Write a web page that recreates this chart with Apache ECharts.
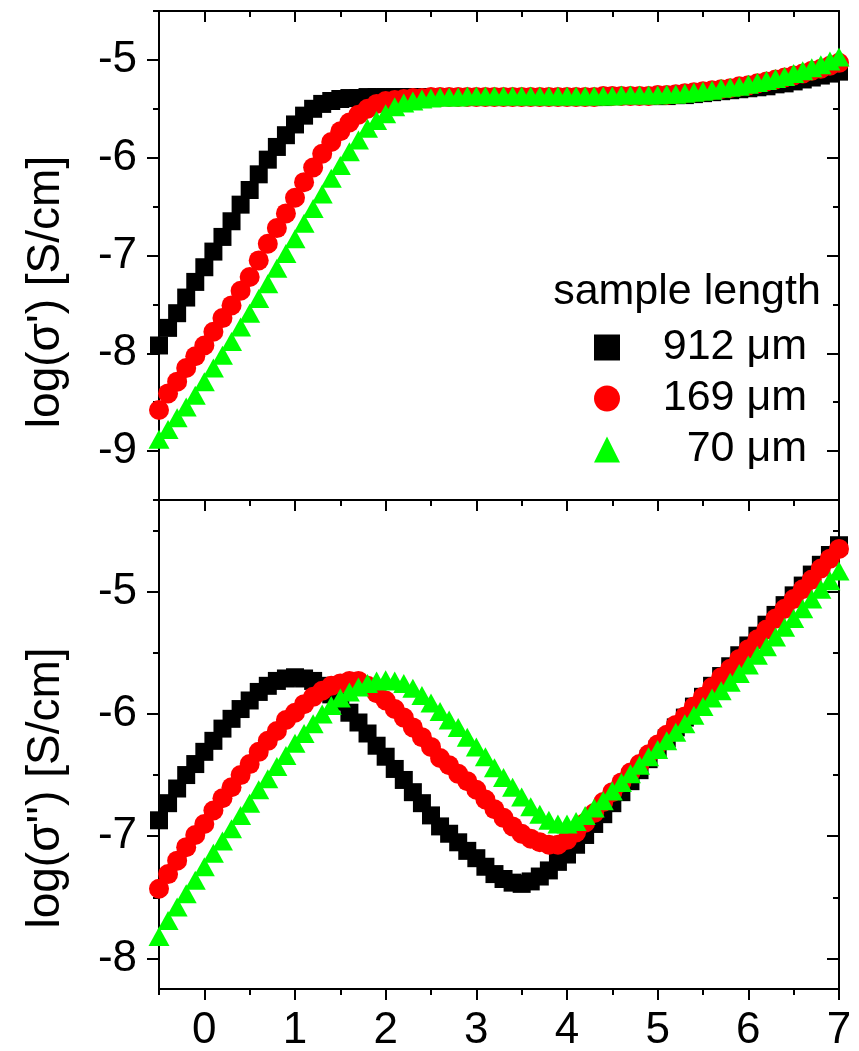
<!DOCTYPE html>
<html>
<head>
<meta charset="utf-8">
<script src="https://cdn.jsdelivr.net/npm/echarts@6/dist/echarts.min.js"></script>
<style>
html,body{margin:0;padding:0;background:#fff;}
#chart{width:859px;height:1051px;}
</style>
</head>
<body>
<div id="chart"></div>
<script>
// log frequency (x)
const logFreq = [-0.5,-0.4,-0.3,-0.2,-0.1,0.0,0.1,0.2,0.3,0.4,0.5,0.6,0.7,0.8,0.9,1.0,1.1,1.2,1.3,1.4,1.5,1.6,1.7,1.8,1.9,2.0,2.1,2.2,2.3,2.4,2.5,2.6,2.7,2.8,2.9,3.0,3.1,3.2,3.3,3.4,3.5,3.6,3.7,3.8,3.9,4.0,4.1,4.2,4.3,4.4,4.5,4.6,4.7,4.8,4.9,5.0,5.1,5.2,5.3,5.4,5.5,5.6,5.7,5.8,5.9,6.0,6.1,6.2,6.3,6.4,6.5,6.6,6.7,6.8,6.9,7.0];

const seriesNames = ['912 \u03bcm', '169 \u03bcm', '70 \u03bcm'];

// top panel: log(sigma')
const sigReal912 = [-7.92,-7.74,-7.59,-7.43,-7.27,
  -7.12,-6.96,-6.81,-6.65,-6.48,-6.33,-6.17,-6.02,-5.89,-5.77,
  -5.66,-5.57,-5.50,-5.45,-5.42,-5.40,-5.39,-5.39,-5.38,-5.38,
  -5.38,-5.38,-5.38,-5.38,-5.38,-5.38,-5.38,-5.38,-5.38,-5.38,
  -5.38,-5.38,-5.38,-5.38,-5.38,-5.38,-5.38,-5.38,-5.38,-5.38,
  -5.38,-5.38,-5.38,-5.38,-5.38,-5.37,-5.37,-5.37,-5.37,-5.37,
  -5.37,-5.37,-5.36,-5.36,-5.35,-5.34,-5.33,-5.32,-5.31,-5.30,
  -5.29,-5.28,-5.27,-5.25,-5.24,-5.22,-5.20,-5.18,-5.16,-5.14,-5.12];
const sigReal169 = [-8.58,-8.41,-8.29,-8.15,-8.03,
  -7.92,-7.78,-7.64,-7.51,-7.36,-7.22,-7.05,-6.88,-6.72,-6.57,
  -6.41,-6.25,-6.10,-5.96,-5.84,-5.73,-5.64,-5.56,-5.50,-5.45,
  -5.42,-5.41,-5.40,-5.39,-5.39,-5.38,-5.38,-5.38,-5.38,-5.38,
  -5.38,-5.38,-5.38,-5.38,-5.38,-5.38,-5.38,-5.38,-5.38,-5.38,
  -5.38,-5.38,-5.38,-5.38,-5.37,-5.37,-5.37,-5.37,-5.37,-5.37,
  -5.36,-5.36,-5.35,-5.34,-5.33,-5.32,-5.31,-5.30,-5.29,-5.27,
  -5.26,-5.24,-5.22,-5.20,-5.18,-5.16,-5.14,-5.11,-5.09,-5.06,-5.03];
const sigReal70 = [-8.88,-8.78,-8.66,-8.55,-8.43,
  -8.29,-8.15,-8.02,-7.88,-7.73,-7.59,-7.44,-7.29,-7.13,-6.98,
  -6.83,-6.67,-6.52,-6.37,-6.21,-6.08,-5.94,-5.82,-5.70,-5.62,
  -5.55,-5.48,-5.44,-5.42,-5.40,-5.39,-5.38,-5.38,-5.38,-5.37,
  -5.37,-5.37,-5.37,-5.37,-5.37,-5.37,-5.37,-5.37,-5.37,-5.37,
  -5.37,-5.37,-5.37,-5.37,-5.37,-5.37,-5.36,-5.36,-5.36,-5.36,
  -5.36,-5.35,-5.35,-5.34,-5.33,-5.32,-5.31,-5.29,-5.28,-5.27,
  -5.25,-5.23,-5.21,-5.19,-5.17,-5.14,-5.11,-5.08,-5.05,-5.01,-4.97];

// bottom panel: log(sigma'')
const sigImag912 = [-6.87,-6.73,-6.61,-6.50,-6.41,
  -6.31,-6.22,-6.12,-6.04,-5.96,-5.89,-5.82,-5.77,-5.73,-5.71,
  -5.70,-5.71,-5.73,-5.77,-5.84,-5.90,-5.99,-6.07,-6.16,-6.26,
  -6.35,-6.45,-6.54,-6.64,-6.73,-6.83,-6.92,-6.98,-7.05,-7.12,
  -7.18,-7.25,-7.31,-7.35,-7.38,-7.39,-7.37,-7.33,-7.28,-7.21,
  -7.15,-7.07,-6.99,-6.90,-6.82,-6.73,-6.64,-6.55,-6.46,-6.37,
  -6.29,-6.20,-6.11,-6.03,-5.94,-5.86,-5.77,-5.69,-5.61,-5.52,
  -5.44,-5.36,-5.27,-5.19,-5.11,-5.03,-4.95,-4.86,-4.78,-4.70,-4.62];
const sigImag169 = [-7.43,-7.31,-7.20,-7.09,-6.99,
  -6.90,-6.79,-6.69,-6.60,-6.50,-6.41,-6.31,-6.22,-6.14,-6.05,
  -5.99,-5.92,-5.86,-5.81,-5.77,-5.75,-5.73,-5.73,-5.77,-5.83,
  -5.89,-5.96,-6.03,-6.11,-6.19,-6.27,-6.36,-6.42,-6.49,-6.55,
  -6.62,-6.70,-6.78,-6.85,-6.92,-6.98,-7.02,-7.05,-7.07,-7.07,
  -7.03,-6.97,-6.89,-6.81,-6.72,-6.64,-6.56,-6.48,-6.41,-6.33,
  -6.25,-6.17,-6.09,-6.02,-5.94,-5.86,-5.78,-5.70,-5.63,-5.55,
  -5.47,-5.39,-5.31,-5.22,-5.14,-5.06,-4.98,-4.90,-4.81,-4.73,-4.65];
const sigImag70 = [-7.82,-7.69,-7.58,-7.47,-7.36,
  -7.25,-7.14,-7.04,-6.94,-6.83,-6.73,-6.62,-6.53,-6.43,-6.34,
  -6.24,-6.16,-6.08,-6.00,-5.93,-5.87,-5.82,-5.78,-5.75,-5.73,
  -5.72,-5.73,-5.75,-5.79,-5.85,-5.91,-5.98,-6.05,-6.11,-6.19,
  -6.27,-6.35,-6.44,-6.52,-6.60,-6.68,-6.76,-6.82,-6.87,-6.90,
  -6.90,-6.88,-6.83,-6.77,-6.71,-6.63,-6.56,-6.49,-6.42,-6.35,
  -6.29,-6.22,-6.15,-6.08,-6.01,-5.94,-5.87,-5.81,-5.74,-5.67,
  -5.60,-5.52,-5.45,-5.37,-5.29,-5.22,-5.14,-5.06,-4.98,-4.91,-4.83];

// ticks
const xMajorTicks = [0,1,2,3,4,5,6,7];
const xMinorTicks = [-0.5,0.5,1.5,2.5,3.5,4.5,5.5,6.5];
const yTopMajor = [-9,-8,-7,-6,-5];
const yTopMinor = [-9.5,-8.5,-7.5,-6.5,-5.5,-4.5];
const yBotMajor = [-8,-7,-6,-5];
const yBotMinor = [-7.5,-6.5,-5.5,-4.5];

const FONT = 'Liberation Sans, Arial, sans-serif';
const BLACK = '#000000';

function pairs(ys){ return logFreq.map((x,i)=>[x, ys[i]]); }

const lineStyle = {color: BLACK, width: 2};
function xAx(grid, pos, opts){
  return Object.assign({
    type:'value', gridIndex:grid, position:pos, min:-0.5, max:7, offset:0,
    axisLine:{show:false, onZero:false, lineStyle}, splitLine:{show:false},
    axisTick:{show:false}, axisLabel:{show:false}
  }, opts);
}
function yAx(grid, pos, min, max, opts){
  return Object.assign({
    type:'value', gridIndex:grid, position:pos, min:min, max:max, offset:0,
    axisLine:{show:false, onZero:false, lineStyle}, splitLine:{show:false},
    axisTick:{show:false}, axisLabel:{show:false}
  }, opts);
}
function ticks(vals, len, inside){
  return {show:true, inside:inside, length:len, customValues:vals, lineStyle:{color:BLACK, width:2}};
}
const labelStyle = {fontFamily:FONT, fontSize:44, color:BLACK};

const chart = echarts.init(document.getElementById('chart'), null, {renderer:'canvas'});
chart.setOption({
  animation:false,
  backgroundColor:'#ffffff',
  grid:[
    {left:159, top:11, width:680, height:489, containLabel:false, outerBoundsMode:'none'},
    {left:159, top:500, width:680, height:489, containLabel:false, outerBoundsMode:'none'}
  ],
  xAxis:[
    xAx(0,'bottom',{axisLine:{show:true,onZero:false,lineStyle}}),
    xAx(0,'top',{axisLine:{show:true,onZero:false,lineStyle}, axisTick:ticks(xMajorTicks,11,true)}),
    xAx(0,'top',{axisTick:ticks(xMinorTicks,6,true)}),
    xAx(1,'bottom',{axisLine:{show:true,onZero:false,lineStyle}, axisTick:ticks(xMajorTicks,11,false),
      axisLabel:Object.assign({show:true, margin:20, customValues:xMajorTicks}, labelStyle)}),
    xAx(1,'bottom',{axisTick:ticks(xMinorTicks,6,false)}),
    xAx(1,'top',{axisLine:{show:true,onZero:false,lineStyle}, axisTick:ticks(xMajorTicks,11,true)}),
    xAx(1,'top',{axisTick:ticks(xMinorTicks,6,true)})
  ],
  yAxis:[
    yAx(0,'left',-9.5,-4.5,{axisLine:{show:true,onZero:false,lineStyle}, axisTick:ticks(yTopMajor,12,false),
      axisLabel:Object.assign({show:true, margin:22, customValues:yTopMajor}, labelStyle)}),
    yAx(0,'left',-9.5,-4.5,{axisTick:ticks(yTopMinor,6,false)}),
    yAx(0,'right',-9.5,-4.5,{axisLine:{show:true,onZero:false,lineStyle}, axisTick:ticks(yTopMajor,12,true)}),
    yAx(0,'right',-9.5,-4.5,{axisTick:ticks(yTopMinor,6,true)}),
    yAx(1,'left',-8.25,-4.25,{axisLine:{show:true,onZero:false,lineStyle}, axisTick:ticks(yBotMajor,12,false),
      axisLabel:Object.assign({show:true, margin:22, customValues:yBotMajor}, labelStyle)}),
    yAx(1,'left',-8.25,-4.25,{axisTick:ticks(yBotMinor,6,false)}),
    yAx(1,'right',-8.25,-4.25,{axisLine:{show:true,onZero:false,lineStyle}, axisTick:ticks(yBotMajor,12,true)}),
    yAx(1,'right',-8.25,-4.25,{axisTick:ticks(yBotMinor,6,true)})
  ],
  legend:{
    show:true, orient:'vertical', left:594, top:326, padding:0,
    itemWidth:26, itemHeight:26, itemGap:8, selectedMode:false,
    data:seriesNames,
    formatter: function(n){ return '{a|' + n + '}'; },
    textStyle:{color:BLACK, fontFamily:FONT, fontSize:43,
      rich:{a:{width:182, align:'right', fontFamily:FONT, fontSize:43, color:BLACK}}}
  },
  graphic:[
    {type:'text', x:687, y:292, silent:true,
      style:{text:'sample length', fill:BLACK, font:'43px ' + FONT, textAlign:'center', textVerticalAlign:'middle'}},
    {type:'text', x:46, y:292, rotation:Math.PI/2, silent:true,
      style:{text:"log(\u03c3') [S/cm]", fill:BLACK, font:'46px ' + FONT, textAlign:'center', textVerticalAlign:'middle'}},
    {type:'text', x:46, y:788, rotation:Math.PI/2, silent:true,
      style:{text:"log(\u03c3'') [S/cm]", fill:BLACK, font:'46px ' + FONT, textAlign:'center', textVerticalAlign:'middle'}}
  ],
  series:[
    {name:seriesNames[0], type:'scatter', xAxisIndex:0, yAxisIndex:0, data:pairs(sigReal912),
      symbol:'rect', symbolSize:18, itemStyle:{color:BLACK, opacity:1}, z:2},
    {name:seriesNames[1], type:'scatter', xAxisIndex:0, yAxisIndex:0, data:pairs(sigReal169),
      symbol:'circle', symbolSize:20, itemStyle:{color:'#ff0000', opacity:1}, z:3},
    {name:seriesNames[2], type:'scatter', xAxisIndex:0, yAxisIndex:0, data:pairs(sigReal70),
      symbol:'triangle', symbolSize:[21,19], itemStyle:{color:'#00ff00', opacity:1}, z:4},
    {name:seriesNames[0], type:'scatter', xAxisIndex:3, yAxisIndex:4, data:pairs(sigImag912),
      symbol:'rect', symbolSize:18, itemStyle:{color:BLACK, opacity:1}, z:2},
    {name:seriesNames[1], type:'scatter', xAxisIndex:3, yAxisIndex:4, data:pairs(sigImag169),
      symbol:'circle', symbolSize:20, itemStyle:{color:'#ff0000', opacity:1}, z:3},
    {name:seriesNames[2], type:'scatter', xAxisIndex:3, yAxisIndex:4, data:pairs(sigImag70),
      symbol:'triangle', symbolSize:[21,19], itemStyle:{color:'#00ff00', opacity:1}, z:4}
  ]
});
</script>
</body>
</html>
